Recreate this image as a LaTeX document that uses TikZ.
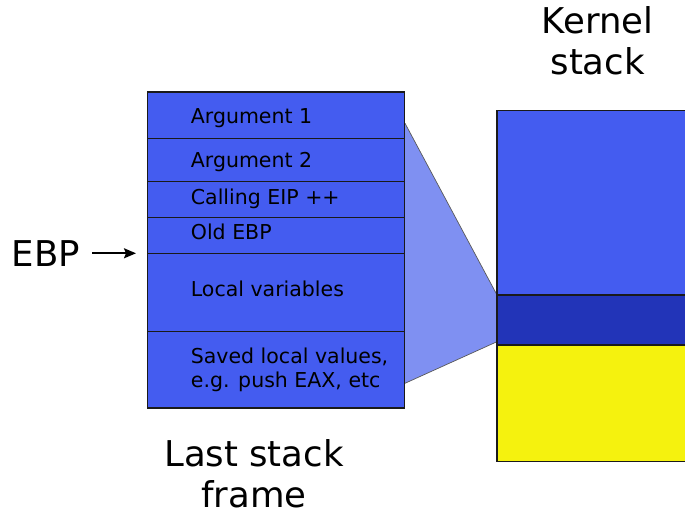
\documentclass[tikz,border=0pt]{standalone}
\usepackage{fontspec}
\setmainfont{DejaVu Sans}
\usetikzlibrary{arrows.meta}

\definecolor{frameblue}{RGB}{68,92,240}
\definecolor{bandblue}{RGB}{34,52,184}
\definecolor{heapyellow}{RGB}{245,242,14}
\definecolor{zoomblue}{RGB}{127,144,242}
\definecolor{edgegray}{RGB}{26,26,26}

\tikzset{
  cell/.style={rectangle, draw=edgegray, line width=0.9pt, fill=frameblue,
    anchor=north west, inner sep=0pt, outer sep=0pt, minimum width=257pt},
  celltext/.style={anchor=base west, inner sep=0pt, font=\fontsize{20.5}{24.5}\selectfont},
  kblock/.style={rectangle, draw=edgegray, line width=1.6pt, anchor=north west,
    inner sep=0pt, outer sep=0pt, minimum width=210pt},
  bigtext/.style={inner sep=0pt, font=\fontsize{35.5}{41.5}\selectfont},
}

\begin{document}
\begin{tikzpicture}[x=1pt, y=1pt]
  \clip (0,0) rectangle (685,516);
  \useasboundingbox (0,0) rectangle (685,516);

  % magnified region linking the frame to the kernel stack
  \coordinate (zt) at (405,392.7);
  \coordinate (zb) at (405,132.7);
  \coordinate (kt) at (497,221);
  \coordinate (kb) at (497,174.3);
  \fill[zoomblue] (zt) -- (kt) -- (kb) -- (zb) -- cycle;
  \draw[gray!70!black, line width=0.7pt] (zt) -- (kt) (kb) -- (zb);

  % stack frame cells
  \node[cell, minimum height=46pt]   (c1) at (147.5,423.7) {};
  \node[cell, minimum height=43.4pt] (c2) at (c1.south west) {};
  \node[cell, minimum height=36pt]   (c3) at (c2.south west) {};
  \node[cell, minimum height=35.6pt] (c4) at (c3.south west) {};
  \node[cell, minimum height=78.4pt] (c5) at (c4.south west) {};
  \node[cell, minimum height=76.6pt] (c6) at (c5.south west) {};
  \draw[edgegray, line width=1.6pt] (c1.north west) rectangle (c6.south east);

  \node[celltext] (t1) at (190.7,392) {Argument 1};
  \node[celltext] (t2) at (190.7,348.3) {Argument 2};
  \node[celltext] (t3) at (190.7,311.7) {Calling EIP ++};
  \node[celltext] (t4) at (190.7,276.7) {Old EBP};
  \node[celltext] (t5) at (190.7,219) {Local variables};
  \node[celltext] (t6) at (190.7,152.3) {Saved local values,};
  \node[celltext] (t7) at (190.7,128) {e.g. push EAX, etc};

  % kernel stack
  \node[kblock, fill=frameblue, minimum height=184.3pt] (k1) at (496.7,405.3) {};
  \node[kblock, fill=bandblue, minimum height=50pt] (k2) at (k1.south west) {};
  \node[kblock, fill=heapyellow, minimum height=116.7pt] (k3) at (k2.south west) {};

  % labels
  \node[bigtext, anchor=base west] (ebp) at (11.7,249.3) {EBP};
  \coordinate (as) at (92,262.7);
  \coordinate (ae) at (136,262.7);
  \draw[line width=1.8pt, -{Stealth[length=12pt, width=10pt, inset=2pt]}] (as) -- (ae);

  % multi-line labels: base anchor sits on the last line
  \node[bigtext, anchor=base, align=center] (lsf) at (254,8) {Last stack\\frame};
  \node[bigtext, anchor=base, align=center] (ks) at (597.7,441) {Kernel\\stack};
\end{tikzpicture}
\end{document}
